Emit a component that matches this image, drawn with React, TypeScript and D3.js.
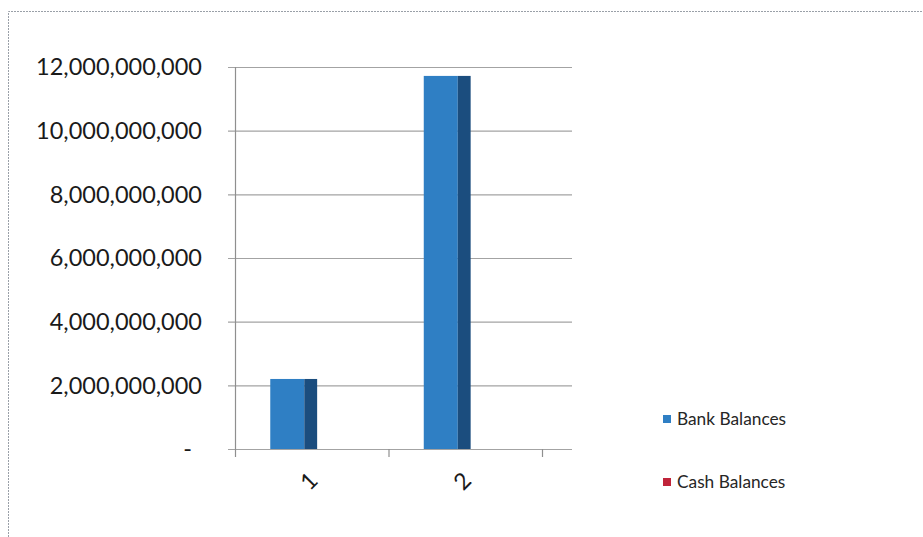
import React from "react";
import * as d3 from "d3";

// Chart data
const categories = ["1", "2"];
const seriesNames = ["Bank Balances", "Cash Balances"];
const bankBalances = [2.2e9, 11.72e9];
const cashBalances = [0, 0];
const yTicks = [0, 2e9, 4e9, 6e9, 8e9, 10e9, 12e9];

const W = 923;
const H = 537;
const FONT = "Lato, 'Open Sans', sans-serif";

const frontColors = ["#2f7fc4", "#c0243a"];
const sideColors = ["#1b4d7e", "#7a1526"];

export default function App() {
  const left = 235;
  const lastTick = 542;
  const plotRight = 572;
  const top = 67;
  const bottom = 449;

  const y = d3.scaleLinear().domain([0, 12e9]).range([bottom, top]);
  const x = d3.scaleBand<string>().domain(categories).range([left, lastTick]).padding(0);
  const inner = d3
    .scaleBand<string>()
    .domain(seriesNames)
    .range([0, x.bandwidth()])
    .paddingInner(0)
    .paddingOuter(0.85);

  const series = [bankBalances, cashBalances];
  const fmt = (v: number) => (v === 0 ? "-" : d3.format(",")(v));
  const tickXs = [...categories.map((c) => x(c) as number), lastTick];

  return (
    <svg
      width={W}
      height={H}
      style={{ position: "fixed", left: 0, top: 0, background: "#fff" }}
    >
      {/* chart frame */}
      <path
        d={`M8.5,${H} V11.5 H${W}`}
        fill="none"
        stroke="#9aa0a8"
        strokeWidth={1}
        strokeDasharray="2,1"
      />

      {/* gridlines and y labels */}
      {yTicks.map((t) => (
        <g key={t}>
          <line
            x1={228}
            x2={plotRight}
            y1={y(t) + 0.5}
            y2={y(t) + 0.5}
            stroke="#a3a3a3"
            strokeWidth={1.2}
          />
          <text
            x={t === 0 ? 192 : 202}
            y={y(t)}
            dy="0.35em"
            textAnchor="end"
            fontFamily={FONT}
            fontSize={23.5}
            fill="#1a1a1a"
          >
            {fmt(t)}
          </text>
        </g>
      ))}

      {/* value axis */}
      <line x1={left + 0.5} x2={left + 0.5} y1={top} y2={bottom} stroke="#8f8f8f" strokeWidth={1.2} />

      {/* category ticks */}
      {tickXs.map((tx, i) => (
        <line key={i} x1={tx + 0.5} x2={tx + 0.5} y1={bottom} y2={bottom + 8} stroke="#8f8f8f" strokeWidth={1.2} />
      ))}

      {/* bars: front face plus darker side face */}
      {categories.map((c, ci) =>
        seriesNames.map((s, si) => {
          const v = series[si][ci];
          if (v <= 0) return null;
          const bx = (x(c) as number) + (inner(s) as number);
          const bw = inner.bandwidth();
          const fw = bw * 0.82;
          const sw = bw * 0.31;
          const yt = y(v);
          return (
            <g key={c + s}>
              <rect x={bx} y={yt} width={fw} height={bottom - yt} fill={frontColors[si]} />
              <rect x={bx + fw} y={yt} width={sw} height={bottom - yt} fill={sideColors[si]} />
            </g>
          );
        })
      )}

      {/* category labels */}
      {categories.map((c) => {
        const cx = (x(c) as number) + x.bandwidth() / 2 - 3;
        return (
          <text
            key={c}
            transform={`translate(${cx},${481}) rotate(-45)`}
            textAnchor="middle"
            dy="0.35em"
            fontFamily={FONT}
            fontSize={23}
            fill="#1a1a1a"
          >
            {c}
          </text>
        );
      })}

      {/* legend */}
      {seriesNames.map((s, i) => {
        const ly = 419 + i * 63;
        return (
          <g key={s}>
            <rect x={663} y={ly - 4} width={8} height={8} fill={frontColors[i]} />
            <text
              x={677}
              y={ly}
              dy="0.35em"
              fontFamily={FONT}
              fontSize={17.3}
              fill="#262626"
            >
              {s}
            </text>
          </g>
        );
      })}
    </svg>
  );
}
